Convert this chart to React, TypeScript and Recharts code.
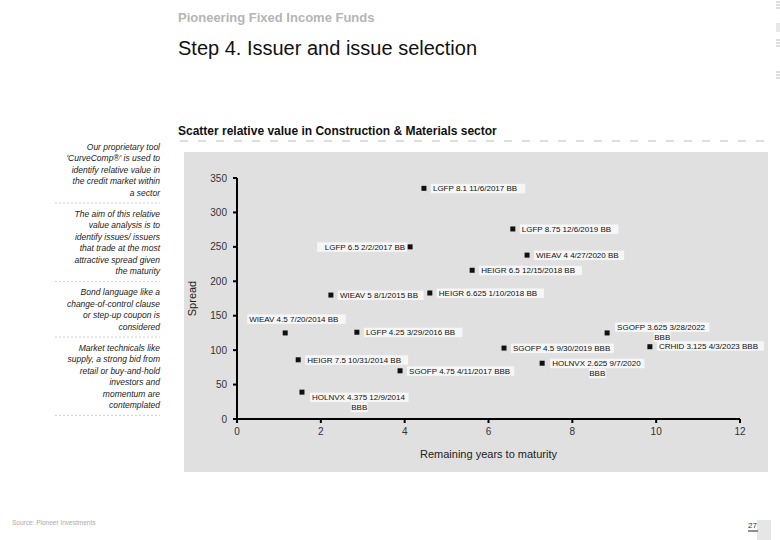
import React from 'react';
import { ScatterChart, Scatter, XAxis, YAxis } from 'recharts';

const FONT = '"Liberation Sans", Arial, sans-serif';

const bonds = [
  'LGFP 8.1 11/6/2017 BB',
  'LGFP 8.75 12/6/2019 BB',
  'LGFP 6.5 2/2/2017 BB',
  'WIEAV 4 4/27/2020 BB',
  'HEIGR 6.5 12/15/2018 BB',
  'HEIGR 6.625 1/10/2018 BB',
  'WIEAV 5 8/1/2015 BB',
  'WIEAV 4.5 7/20/2014 BB',
  'LGFP 4.25 3/29/2016 BB',
  'HEIGR 7.5 10/31/2014 BB',
  'SGOFP 4.75 4/11/2017 BBB',
  'HOLNVX 4.375 12/9/2014 BBB',
  'SGOFP 4.5 9/30/2019 BBB',
  'HOLNVX 2.625 9/7/2020 BBB',
  'SGOFP 3.625 3/28/2022 BBB',
  'CRHID 3.125 4/3/2023 BBB',
];
const yearsToMaturity = [4.46, 6.58, 4.13, 6.92, 5.61, 4.6, 2.24, 1.15, 2.86, 1.46, 3.89, 1.55, 6.37, 7.28, 8.83, 9.85];
const spreads = [335, 276, 250, 238, 216, 183, 180, 125, 126, 86, 70, 39, 103, 81, 125, 105];

const xTicks = [0, 2, 4, 6, 8, 10, 12];
const yTicks = [0, 50, 100, 150, 200, 250, 300, 350];

const notes = [
  ['Our proprietary tool', "'CurveComp\u00ae' is used to", 'identify relative value in', 'the credit market within', 'a sector'],
  ['The aim of this relative', 'value analysis is to', 'identify issues/ issuers', 'that trade at the most', 'attractive spread given', 'the maturity'],
  ['Bond language like a', 'change-of-control clause', 'or step-up coupon is', 'considered'],
  ['Market technicals like', 'supply, a strong bid from', 'retail or buy-and-hold', 'investors and', 'momentum are', 'contemplated'],
];

// label placement next to each marker (layout only): r = right, l = left, a = above, r2 = right on two lines
const placement: { side: string; dy: number }[] = [
  { side: 'r', dy: 3 }, { side: 'r', dy: 3 }, { side: 'l', dy: 3 }, { side: 'r', dy: 3 },
  { side: 'r', dy: 3 }, { side: 'r', dy: 3 }, { side: 'r', dy: 3 }, { side: 'a', dy: -11 },
  { side: 'r', dy: 3 }, { side: 'r', dy: 3 }, { side: 'r', dy: 3 }, { side: 'r2', dy: 8 },
  { side: 'r', dy: 3 }, { side: 'r2', dy: 3 }, { side: 'r2', dy: -3 }, { side: 'r', dy: 2 },
];

const data = bonds.map((name, i) => ({ name, years: yearsToMaturity[i], spread: spreads[i], idx: i }));

const LabelBox = ({ x, y, text, anchor = 'start' }: any) => {
  const w = text.length * 4.3 + 4;
  const left = anchor === 'end' ? x - w + 2 : anchor === 'middle' ? x - w / 2 : x - 2;
  return (
    <g>
      <rect x={left} y={y - 7.5} width={w} height={9.5} fill="#f6f6f6" />
      <text x={x} y={y} fontSize={8} fontFamily={FONT} fill="#111" textAnchor={anchor}>
        {text}
      </text>
    </g>
  );
};

const BondPoint = (props: any) => {
  const { cx, cy, payload } = props;
  const { side, dy } = placement[payload.idx];
  const name: string = payload.name;
  let label: React.ReactNode = null;
  if (side === 'r') label = <LabelBox x={cx + 9} y={cy + dy} text={name} />;
  if (side === 'l') label = <LabelBox x={cx - 5} y={cy + dy} text={name} anchor="end" />;
  if (side === 'a') label = <LabelBox x={cx - 36} y={cy + dy} text={name} />;
  if (side === 'r2') {
    const cut = name.lastIndexOf(' ');
    const first = name.slice(0, cut);
    const w = first.length * 4.3;
    label = (
      <g>
        <LabelBox x={cx + 10} y={cy + dy} text={first} />
        <LabelBox x={cx + 10 + w / 2} y={cy + dy + 10} text={name.slice(cut + 1)} anchor="middle" />
      </g>
    );
  }
  return (
    <g>
      <rect x={cx - 2.5} y={cy - 2.5} width={5} height={5} fill="#111" />
      {label}
    </g>
  );
};

export default function App() {
  let noteY = 150;
  const noteLines: React.ReactNode[] = [];
  const separators: number[] = [];
  notes.forEach((para, p) => {
    para.forEach((line, i) => {
      noteLines.push(
        <text key={`${p}-${i}`} x={160} y={noteY} textAnchor="end" fontSize={8.5} fontStyle="italic" fontFamily={FONT} fill="#222">
          {line}
        </text>
      );
      noteY += 11.4;
    });
    separators.push(noteY - 4);
    noteY += 10;
  });

  return (
    <div style={{ position: 'absolute', left: 0, top: 0, width: 780, height: 540, background: '#fff', fontFamily: FONT }}>
      <svg width={780} height={540} style={{ position: 'absolute', left: 0, top: 0 }}>
        <text x={178} y={22} fontSize={13} fontWeight="bold" fill="#b5b5b5" fontFamily={FONT}>
          Pioneering Fixed Income Funds
        </text>
        <text x={178} y={55} fontSize={20} fill="#111" fontFamily={FONT}>
          Step 4. Issuer and issue selection
        </text>
        <text x={178} y={135} fontSize={12} fontWeight="bold" fill="#111" fontFamily={FONT}>
          Scatter relative value in Construction &amp; Materials sector
        </text>
        <line x1={180} y1={141} x2={770} y2={141} stroke="#bdbdbd" strokeWidth={1} strokeDasharray="8 10" />
        {noteLines}
        {separators.map((y, i) => (
          <line key={i} x1={55} y1={y} x2={160} y2={y} stroke="#d0d0d0" strokeWidth={1} strokeDasharray="2 2" />
        ))}
        <text x={12} y={525} fontSize={6.5} fill="#aaa" fontFamily={FONT}>
          Source: Pioneer Investments
        </text>
        <rect x={757} y={520} width={14} height={20} fill="#e6e6e6" />
        <text x={748} y={528} fontSize={8} fill="#333" fontFamily={FONT}>
          27
        </text>
        <line x1={748} y1={531} x2={758} y2={531} stroke="#222" strokeWidth={1} />
        {[2, 5, 8, 40, 43, 46, 72, 75, 78].map((y) => (
          <line key={y} x1={776} y1={y} x2={780} y2={y} stroke="#bbb" strokeWidth={1} />
        ))}
        <rect x={776} y={23} width={4} height={9} fill="#e8e8e8" />
      </svg>
      <div style={{ position: 'absolute', left: 184, top: 152, width: 584, height: 320, background: '#e0e0e0' }}>
        <ScatterChart width={584} height={320} margin={{ top: 26, right: 28, bottom: 0, left: 0 }}>
          <XAxis
            type="number"
            dataKey="years"
            domain={[0, 12]}
            ticks={xTicks}
            interval={0}
            height={53}
            axisLine={{ stroke: '#000', strokeWidth: 2 }}
            tickLine={{ stroke: '#000', strokeWidth: 2 }}
            tickSize={4}
            tickMargin={5}
            tick={{ fontSize: 10, fill: '#333', fontFamily: FONT }}
            label={{ value: 'Remaining years to maturity', position: 'insideBottom', offset: 14, fontSize: 11, fill: '#222', fontFamily: FONT }}
          />
          <YAxis
            type="number"
            dataKey="spread"
            domain={[0, 350]}
            ticks={yTicks}
            interval={0}
            width={53}
            axisLine={{ stroke: '#000', strokeWidth: 2 }}
            tickLine={{ stroke: '#000', strokeWidth: 2 }}
            tickSize={4}
            tickMargin={6}
            tick={{ fontSize: 10, fill: '#333', fontFamily: FONT }}
            label={{ value: 'Spread', angle: -90, position: 'insideLeft', offset: 8, fontSize: 11, fill: '#222', fontFamily: FONT, style: { textAnchor: 'middle' } }}
          />
          <Scatter data={data} shape={BondPoint} isAnimationActive={false} />
        </ScatterChart>
      </div>
    </div>
  );
}
